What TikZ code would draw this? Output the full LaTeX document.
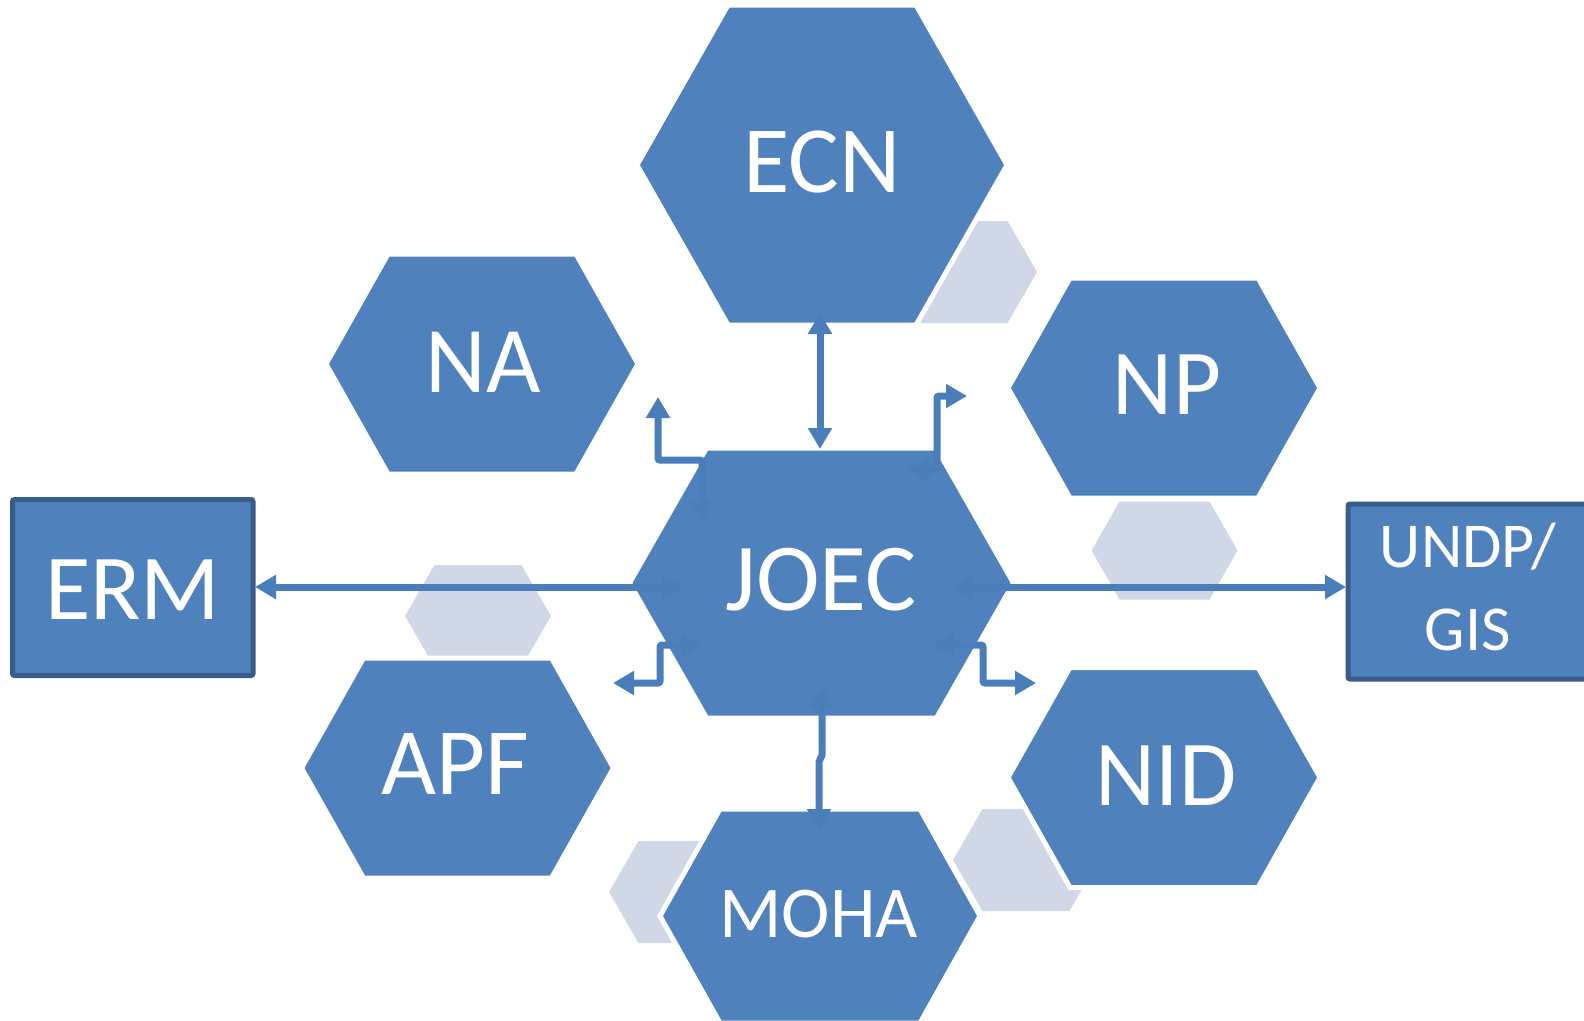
\documentclass[tikz,border=0pt]{standalone}
\usepackage{fontspec}
\setmainfont{Carlito}
\usetikzlibrary{arrows.meta}
\definecolor{hexblue}{HTML}{4F81BD}
\definecolor{hexlight}{HTML}{D0D8E8}
\definecolor{boxedge}{HTML}{385D8A}
\definecolor{arrowblue}{HTML}{4A7EBB}
\newcommand{\hexshape}[6]{\path[#1] ({#2-#4},{#3}) -- ({#2-#4+#5},{#3-#6}) -- ({#2+#4-#5},{#3-#6}) -- ({#2+#4},{#3}) -- ({#2+#4-#5},{#3+#6}) -- ({#2-#4+#5},{#3+#6}) -- cycle;}
\tikzset{
  mainhex/.style={fill=hexblue, draw=white, line width=5pt, line join=miter},
  lighthex/.style={fill=hexlight},
  boxnode/.style={fill=hexblue, draw=boxedge, line width=5pt, rounded corners=2pt},
  lbl/.style={text=white, inner sep=0pt, anchor=base},
  conn/.style={draw=arrowblue, line width=7pt, rounded corners=2pt},
  tips/.style={{Triangle[length=21pt,width=23pt]}-{Triangle[length=21pt,width=23pt]}}
}
\begin{document}
\begin{tikzpicture}[x=1pt,y=-1pt]
\clip (0,0) rectangle (1584,1020);
\fill[white] (0,0) rectangle (1584,1020);
% light background hexagons
\hexshape{lighthex}{964}{272}{73}{29.5}{51}
\hexshape{lighthex}{1164.5}{550.5}{73}{28}{49}
\hexshape{lighthex}{478}{616}{73}{29.5}{51}
\hexshape{lighthex}{682}{892}{73}{29.5}{51}
\hexshape{lighthex}{1026}{860}{73}{29.5}{51}
% main hexagons
\hexshape{mainhex}{822}{165}{185}{91}{160}
\hexshape{mainhex}{482}{364}{156}{62}{110}
\hexshape{mainhex}{1164}{388}{156}{62}{110}
\hexshape{mainhex}{1164}{777.5}{156}{62}{110}
\hexshape{mainhex}{457.5}{768}{156}{62}{110}
\hexshape{mainhex}{821.5}{583}{192}{77}{135}
\hexshape{mainhex}{820}{916}{160}{60}{107}
% boxes
\path[boxnode] (12.5,499.5) rectangle (253,675.5);
\path[boxnode] (1348,504) rectangle (1620,679);
% connector end points
\coordinate (ecnB) at (820,313);
\coordinate (joecT) at (820,449);
\coordinate (naE) at (658,397);
\coordinate (joecNA) at (702,522);
\coordinate (npE) at (967,396);
\coordinate (joecNP) at (908,470);
\coordinate (ermE) at (255,587);
\coordinate (joecW) at (683,587);
\coordinate (joecE) at (952,587);
\coordinate (undpE) at (1346,587);
\coordinate (apfE) at (613,683);
\coordinate (joecAPF) at (702,645);
\coordinate (nidE) at (1036,683);
\coordinate (joecNID) at (933,645);
\coordinate (joecB) at (822,687);
\coordinate (mohaT) at (819,830);
% connectors
\draw[conn,tips] (ecnB) -- (joecT);
\draw[conn,tips] (naE) -- (naE |- 0,460) -- (joecNA |- 0,460) -- (joecNA);
\draw[conn,tips] (joecNP) -- (937,470) -- (937,396) -- (npE);
\draw[conn,tips] (ermE) -- (joecW);
\draw[conn,tips] (joecE) -- (undpE);
\draw[conn,tips] (apfE) -- (660,683) -- (660,645) -- (joecAPF);
\draw[conn,tips] (joecNID) -- (983,645) -- (983,683) -- (nidE);
\draw[conn,tips] (joecB) -- (822,757) -- (819,760) -- (mohaT);
% labels
\node[lbl, font=\fontsize{95}{95}\selectfont] (ecn) at (822,192) {ECN};
\node[lbl, font=\fontsize{96}{96}\selectfont] (joec) at (821,610) {JOEC};
\node[lbl, font=\fontsize{94}{94}\selectfont] (na) at (483,392) {NA};
\node[lbl, font=\fontsize{93}{93}\selectfont] (np) at (1167,414) {NP};
\node[lbl, font=\fontsize{93}{93}\selectfont] (nid) at (1166,805) {NID};
\node[lbl, font=\fontsize{95}{95}\selectfont] (apf) at (455.6,794) {APF};
\node[lbl, font=\fontsize{73}{73}\selectfont] (moha) at (818.8,937.5) {MOHA};
\node[lbl, font=\fontsize{93}{93}\selectfont] (erm) at (132.8,619) {ERM};
\node[lbl, font=\fontsize{64}{64}\selectfont] (undp) at (1468,567) {UNDP/};
\node[lbl, font=\fontsize{64}{64}\selectfont] (gis) at (1467.6,650) {GIS};
\end{tikzpicture}
\end{document}
